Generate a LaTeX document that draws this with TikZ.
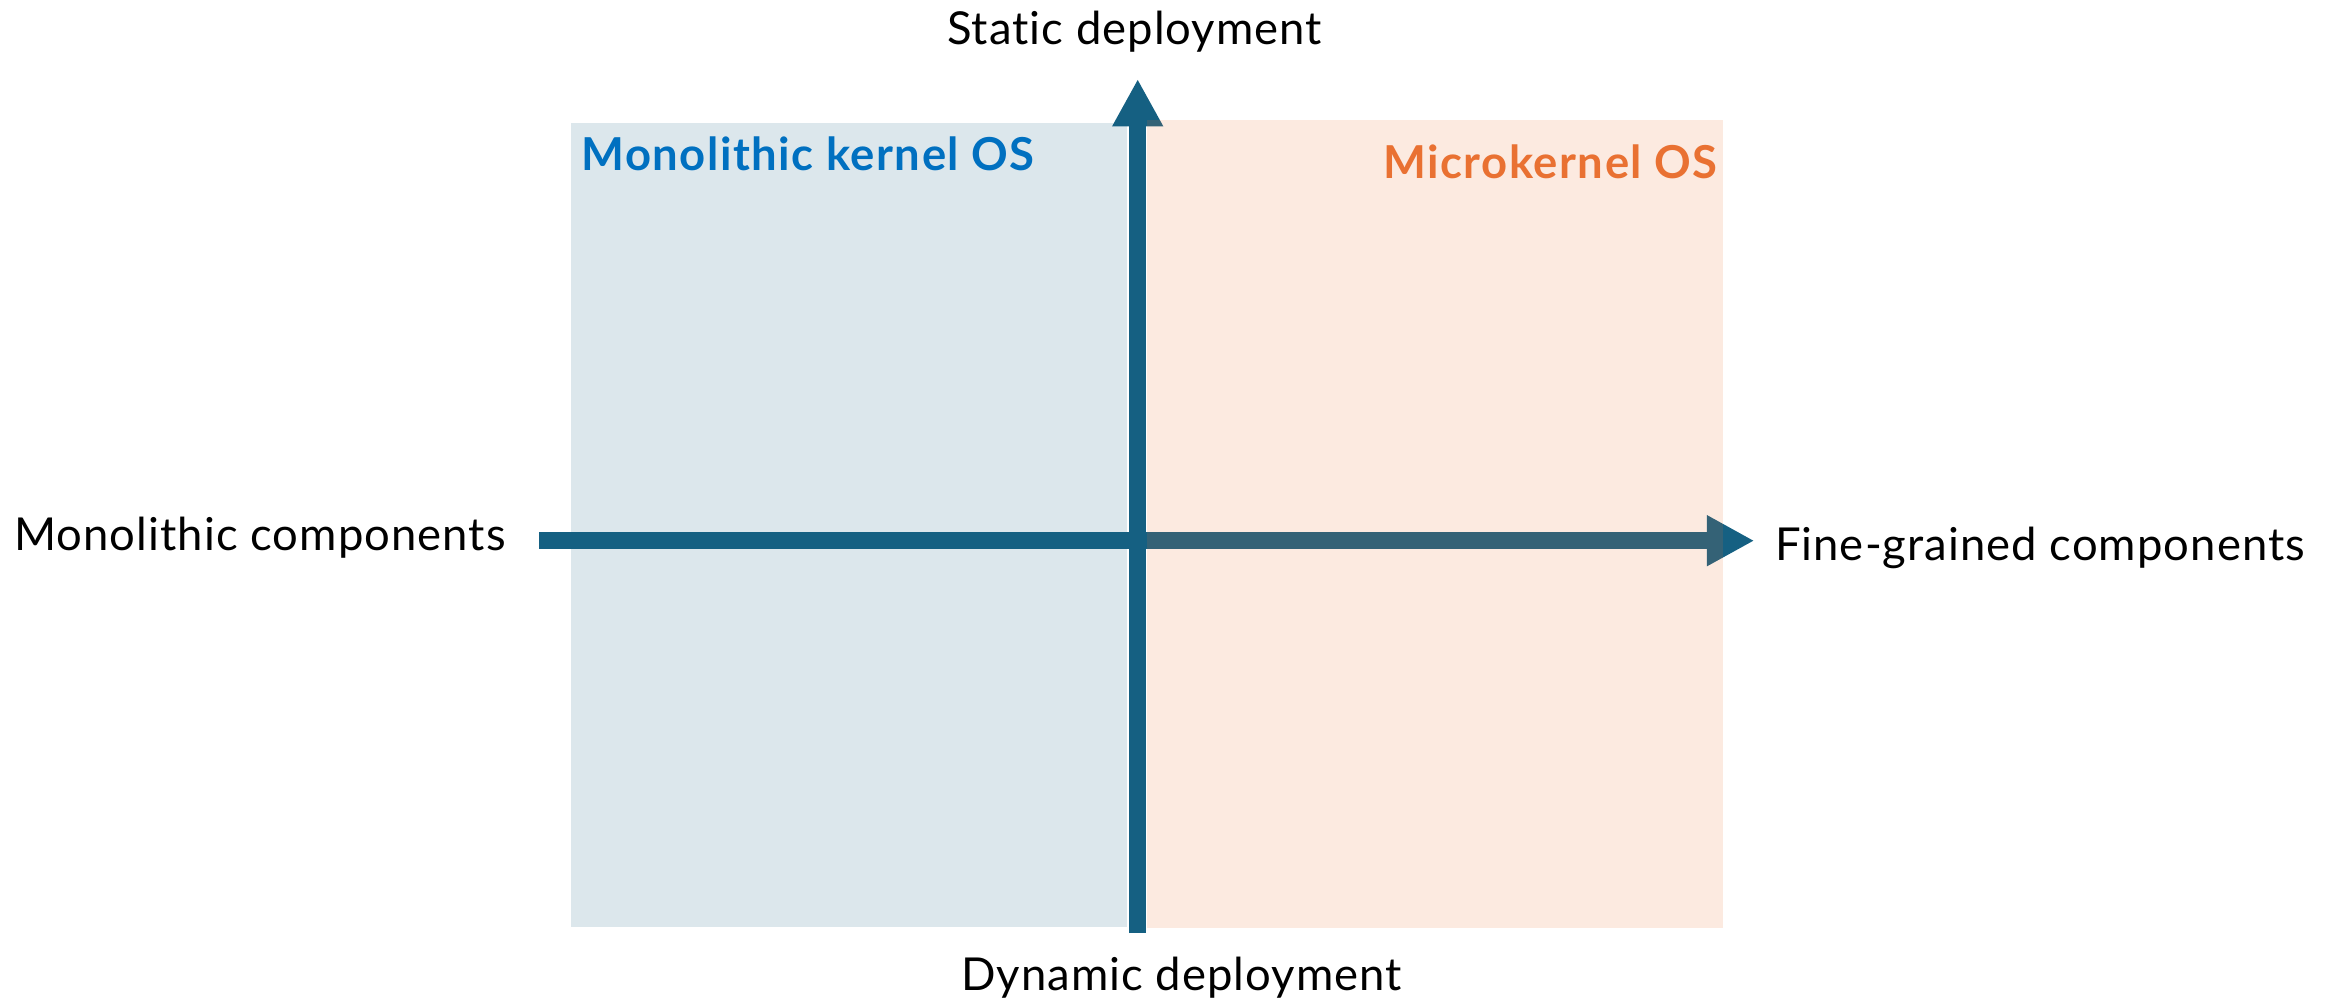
\documentclass[tikz,border=0pt]{standalone}
\usepackage{fontspec}
\setmainfont{Lato}[Ligatures=NoCommon, LetterSpace=2.3, BoldFeatures={LetterSpace=3.3}]
\usetikzlibrary{arrows.meta}
\definecolor{axisblue}{HTML}{156082}
\definecolor{accentorange}{HTML}{E97132}
\definecolor{titleblue}{HTML}{0070C0}
\tikzset{
  axisline/.style={draw=axisblue, line width=16.7pt, line cap=butt,
    -{Triangle[width=47.7pt,length=47.5pt]}},
  quadrant/.style={fill opacity=0.15, draw=none},
  axislabel/.style={inner sep=0pt, anchor=base, font=\fontsize{45.4}{50}\selectfont},
  quadlabel/.style={inner sep=0pt, anchor=base, font=\fontsize{45.4}{50}\selectfont\bfseries},
}
\begin{document}
\begin{tikzpicture}[x=1pt, y=-1pt]
  \useasboundingbox (0,0) rectangle (2335,1000);

  % axis end points
  \coordinate (vbot) at (1137.7,933);
  \coordinate (vtop) at (1137.7,79);
  \coordinate (hleft) at (539,540.7);
  \coordinate (hright) at (1754.3,540.7);

  % the two axes
  \draw[axisline] (vbot) -- (vtop);
  \draw[axisline] (hleft) -- (hright);

  % quadrant shading laid over the axes
  \fill[quadrant, axisblue] (571,123) rectangle (1127,927);
  \fill[quadrant, accentorange] (1147,120) rectangle (1723.3,927.7);

  % axis labels
  \node[axislabel] (static) at (1134.5,45) {Static deployment};
  \node[axislabel] (dynamic) at (1181.5,990) {Dynamic deployment};
  \node[axislabel] (mono) at (260,550) {Monolithic components};
  \node[axislabel] (fine) at (2040,560) {Fine-grained components};

  % region titles
  \node[quadlabel, text=titleblue] (monok) at (808,171) {Monolithic kernel OS};
  \node[quadlabel, text=accentorange] (micro) at (1550.5,178.3) {Microkernel OS};
\end{tikzpicture}
\end{document}
